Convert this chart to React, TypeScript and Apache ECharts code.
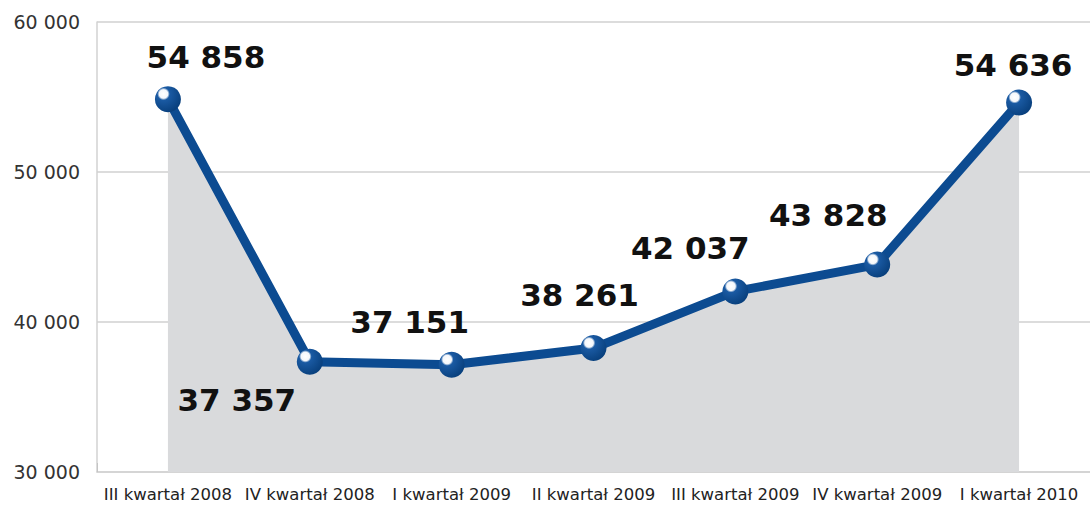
import React, { useEffect, useRef } from "react";
import * as echarts from "echarts";

const categories = [
  "III kwartał 2008",
  "IV kwartał 2008",
  "I kwartał 2009",
  "II kwartał 2009",
  "III kwartał 2009",
  "IV kwartał 2009",
  "I kwartał 2010",
];
const values = [54858, 37357, 37151, 38261, 42037, 43828, 54636];
const yTicks = [30000, 40000, 50000, 60000];

const labelOffsets: [number, number][] = [
  [38, -42],
  [-73, 38],
  [-42, -43],
  [-14, -53],
  [-45, -43],
  [-49, -50],
  [-6, -37],
];

const fmt = (v: number) => {
  const s = String(Math.round(v));
  return s.replace(/\B(?=(\d{3})+(?!\d))/g, " ");
};

export default function App() {
  const ref = useRef<HTMLDivElement>(null);
  useEffect(() => {
    if (!ref.current) return;
    const chart = echarts.init(ref.current, undefined, { renderer: "svg" });
    const blue = "#0c4b91";
    chart.setOption({
      animation: false,
      backgroundColor: "#ffffff",
      grid: { left: 97, right: 0, top: 22, bottom: 34 },
      xAxis: {
        type: "category",
        data: categories,
        boundaryGap: true,
        axisLine: { show: true, lineStyle: { color: "#d2d2d2", width: 1.5 } },
        axisTick: { show: true, inside: true, length: 9, lineStyle: { color: "#c4c4c4" } },
        axisLabel: {
          color: "#222",
          fontFamily: "DejaVu Sans",
          fontSize: 16.5,
          margin: 14,
          interval: 0,
        },
      },
      yAxis: {
        type: "value",
        min: yTicks[0],
        max: yTicks[yTicks.length - 1],
        interval: 10000,
        axisLine: { show: true, lineStyle: { color: "#d2d2d2", width: 1.5 } },
        axisTick: { show: false },
        splitLine: { show: true, lineStyle: { color: "#d0d0d0", width: 1.5 } },
        axisLabel: {
          color: "#333",
          fontFamily: "DejaVu Sans",
          fontSize: 19,
          margin: 17,
          formatter: (v: number) => fmt(v),
        },
      },
      series: [
        {
          type: "line",
          data: values.map((v, i) => ({
            value: v,
            label: {
              show: true,
              position: "inside",
              offset: labelOffsets[i],
              formatter: (p: any) => fmt(p.value),
              color: "#111",
              fontFamily: "DejaVu Sans",
              fontWeight: "bold",
              fontSize: 31,
              align: "center",
              verticalAlign: "middle",
            },
          })),
          lineStyle: { color: blue, width: 9 },
          areaStyle: { color: "#d9dadc", opacity: 1 },
          symbol: "circle",
          symbolSize: 26,
          showAllSymbol: true,
          itemStyle: {
            color: {
              type: "radial",
              x: 0.33,
              y: 0.3,
              r: 0.75,
              colorStops: [
                { offset: 0, color: "#ffffff" },
                { offset: 0.22, color: "#f4f7fb" },
                { offset: 0.32, color: "#1a5aa3" },
                { offset: 1, color: "#083f7c" },
              ],
            },
            borderWidth: 0,
          },
          z: 3,
        },
      ],
    });
    return () => chart.dispose();
  }, []);
  return (
    <div
      ref={ref}
      style={{ position: "absolute", left: 0, top: 0, width: 1090, height: 506 }}
    />
  );
}
